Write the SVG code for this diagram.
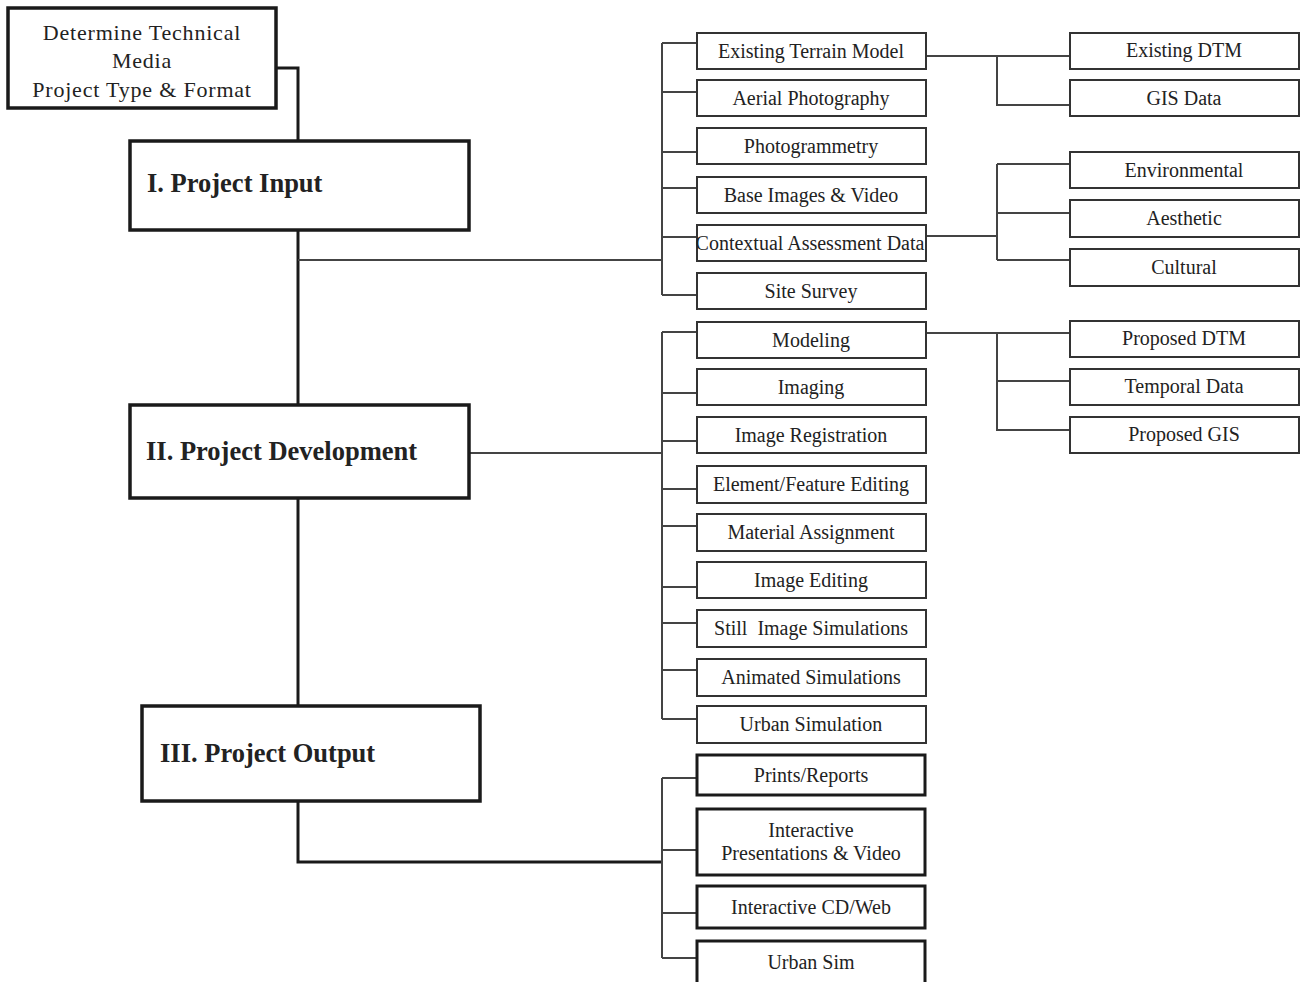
<svg xmlns="http://www.w3.org/2000/svg" width="1301" height="982" viewBox="0 0 1301 982">
<style>
.bg{fill:#fff}
.main{fill:#fff;stroke:#1a1a1a;stroke-width:3.5}
.item{fill:#fff;stroke:#333;stroke-width:2}
.out{fill:#fff;stroke:#1a1a1a;stroke-width:3}
.t{font-family:"Liberation Serif","Times New Roman",serif;font-size:20px;fill:#222;text-anchor:middle}
.tl{font-family:"Liberation Serif","Times New Roman",serif;font-size:22px;fill:#222;text-anchor:middle;letter-spacing:0.8px}
.tm{font-family:"Liberation Serif","Times New Roman",serif;font-size:26.5px;font-weight:bold;fill:#222}
.pre{white-space:pre}
.c{fill:none;stroke:#444;stroke-width:2}
.ck{fill:none;stroke:#1a1a1a;stroke-width:3}
</style>
<rect class="bg" x="0" y="0" width="1301" height="982"/>
<g id="connectors">
<path class="ck" d="M276,68 H298 V141"/>
<path class="ck" d="M298,230 V405"/>
<path class="c" d="M298,260 H662"/>
<path class="c" d="M469,453 H662"/>
<path class="ck" d="M298,498 V706"/>
<path class="ck" d="M298,800 V862 H662"/>
<path class="c" d="M662,43 V295 M662,43 H697 M662,92 H697 M662,152 H697 M662,188 H697 M662,237 H697 M662,295 H697"/>
<path class="c" d="M662,332 V719 M662,332 H697 M662,393 H697 M662,441 H697 M662,489 H697 M662,526 H697 M662,587 H697 M662,623 H697 M662,670 H697 M662,719 H697"/>
<path class="c" d="M662,778 V958 M662,778 H697 M662,850 H697 M662,913 H697 M662,958 H697"/>
<path class="c" d="M926,56 H1070 M997,56 V105 H1070"/>
<path class="c" d="M926,236 H997 M997,164 V260 M997,164 H1070 M997,213 H1070 M997,260 H1070"/>
<path class="c" d="M926,333 H1070 M997,333 V430 H1070 M997,381 H1070"/>
</g>
<g id="n-determine"><rect class="main" x="8" y="8" width="268" height="100"/>
<text class="tl" x="142" y="40">Determine Technical</text>
<text class="tl" x="142" y="68">Media</text>
<text class="tl" x="142" y="97">Project Type &amp; Format</text></g>
<g id="n-input"><rect class="main" x="130" y="141" width="339" height="89"/><text class="tm" x="147" y="192">I. Project Input</text></g>
<g id="n-development"><rect class="main" x="130" y="405" width="339" height="93"/><text class="tm" x="146" y="460">II. Project Development</text></g>
<g id="n-output"><rect class="main" x="142" y="706" width="338" height="95"/><text class="tm" x="160" y="762">III. Project Output</text></g>

<g id="n-etm"><rect class="item" x="697" y="33" width="229" height="36"/><text class="t" x="811" y="58">Existing Terrain Model</text></g>
<g id="n-aerial"><rect class="item" x="697" y="80" width="229" height="36"/><text class="t" x="811" y="105">Aerial Photography</text></g>
<g id="n-photogrammetry"><rect class="item" x="697" y="128" width="229" height="36"/><text class="t" x="811" y="153">Photogrammetry</text></g>
<g id="n-base"><rect class="item" x="697" y="177" width="229" height="36"/><text class="t" x="811" y="202">Base Images &amp; Video</text></g>
<g id="n-contextual"><rect class="item" x="697" y="225" width="229" height="36"/><text class="t" x="810" y="250">Contextual Assessment Data</text></g>
<g id="n-site"><rect class="item" x="697" y="273" width="229" height="36"/><text class="t" x="811" y="298">Site Survey</text></g>

<g id="n-modeling"><rect class="item" x="697" y="322" width="229" height="36"/><text class="t" x="811" y="347">Modeling</text></g>
<g id="n-imaging"><rect class="item" x="697" y="369" width="229" height="36"/><text class="t" x="811" y="394">Imaging</text></g>
<g id="n-registration"><rect class="item" x="697" y="417" width="229" height="36"/><text class="t" x="811" y="442">Image Registration</text></g>
<g id="n-element"><rect class="item" x="697" y="466" width="229" height="37"/><text class="t" x="811" y="491">Element/Feature Editing</text></g>
<g id="n-material"><rect class="item" x="697" y="514" width="229" height="37"/><text class="t" x="811" y="539">Material Assignment</text></g>
<g id="n-imageediting"><rect class="item" x="697" y="562" width="229" height="36"/><text class="t" x="811" y="587">Image Editing</text></g>
<g id="n-still"><rect class="item" x="697" y="610" width="229" height="37"/><text class="t pre" x="811" y="635" xml:space="preserve">Still  Image Simulations</text></g>
<g id="n-animated"><rect class="item" x="697" y="659" width="229" height="37"/><text class="t" x="811" y="684">Animated Simulations</text></g>
<g id="n-urbansimulation"><rect class="item" x="697" y="706" width="229" height="37"/><text class="t" x="811" y="731">Urban Simulation</text></g>

<g id="n-prints"><rect class="out" x="697" y="755" width="228" height="40"/><text class="t" x="811" y="782">Prints/Reports</text></g>
<g id="n-interactive"><rect class="out" x="697" y="809" width="228" height="66"/><text class="t" x="811" y="837">Interactive</text><text class="t" x="811" y="860">Presentations &amp; Video</text></g>
<g id="n-cdweb"><rect class="out" x="697" y="886" width="228" height="42"/><text class="t" x="811" y="914">Interactive CD/Web</text></g>
<g id="n-urbansim"><rect class="out" x="697" y="941" width="228" height="45"/><text class="t" x="811" y="969">Urban Sim</text></g>

<g id="n-existingdtm"><rect class="item" x="1070" y="33" width="229" height="36"/><text class="t" x="1184" y="57">Existing DTM</text></g>
<g id="n-gis"><rect class="item" x="1070" y="80" width="229" height="36"/><text class="t" x="1184" y="105">GIS Data</text></g>
<g id="n-environmental"><rect class="item" x="1070" y="152" width="229" height="36"/><text class="t" x="1184" y="177">Environmental</text></g>
<g id="n-aesthetic"><rect class="item" x="1070" y="200" width="229" height="37"/><text class="t" x="1184" y="225">Aesthetic</text></g>
<g id="n-cultural"><rect class="item" x="1070" y="249" width="229" height="37"/><text class="t" x="1184" y="274">Cultural</text></g>
<g id="n-proposeddtm"><rect class="item" x="1070" y="321" width="229" height="36"/><text class="t" x="1184" y="345">Proposed DTM</text></g>
<g id="n-temporal"><rect class="item" x="1070" y="369" width="229" height="36"/><text class="t" x="1184" y="393">Temporal Data</text></g>
<g id="n-proposedgis"><rect class="item" x="1070" y="417" width="229" height="36"/><text class="t" x="1184" y="441">Proposed GIS</text></g>
</svg>
